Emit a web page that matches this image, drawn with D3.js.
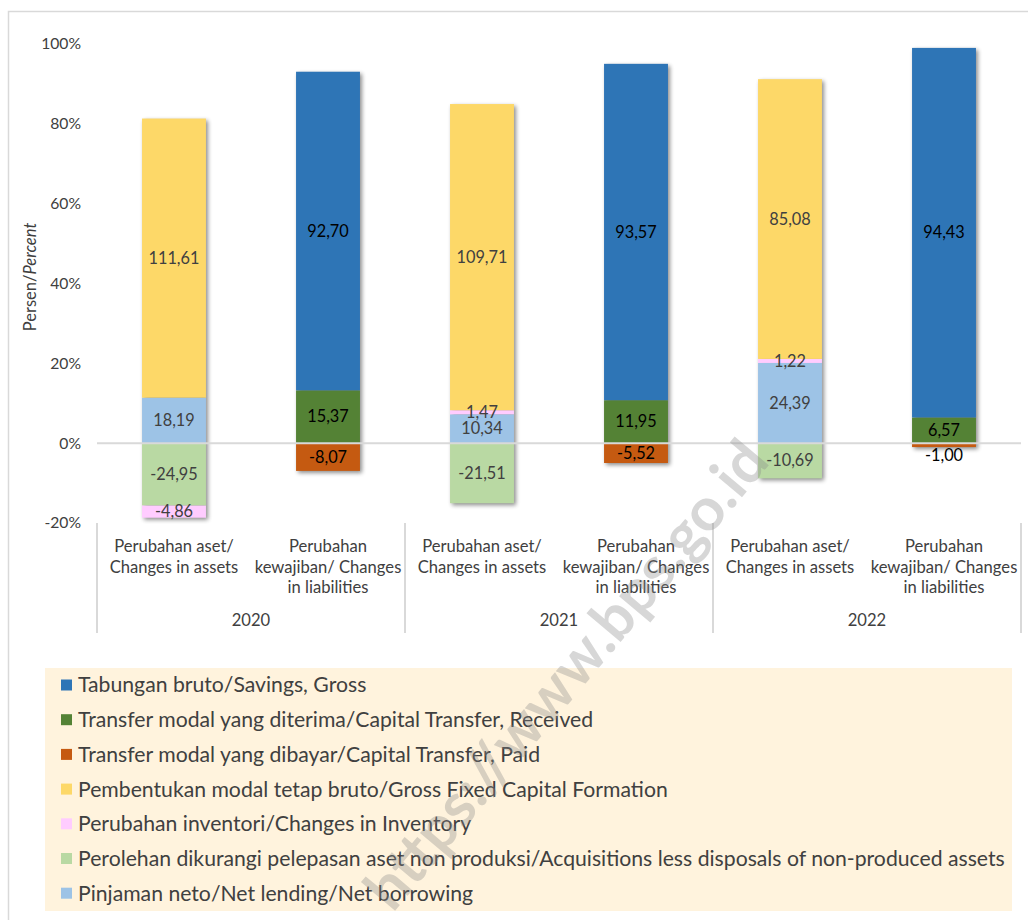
<!DOCTYPE html>
<html><head><meta charset="utf-8">
<script src="https://cdn.jsdelivr.net/npm/d3@7"></script>
<style>body{margin:0;background:#fff;font-family:Lato,"Open Sans",sans-serif}</style>
</head><body><svg id="c" width="1028" height="920"></svg>
<script>
const years = ["2020", "2021", "2022"];
const categoryLines = [
  ["Perubahan aset/", "Changes in assets"],
  ["Perubahan", "kewajiban/ Changes", "in liabilities"]
];
const categories = ["2020-A", "2020-L", "2021-A", "2021-L", "2022-A", "2022-L"];
const savings          = [0, 92.70, 0, 93.57, 0, 94.43];
const transferReceived = [0, 15.37, 0, 11.95, 0, 6.57];
const transferPaid     = [0, -8.07, 0, -5.52, 0, -1.00];
const gfcf             = [111.61, 0, 109.71, 0, 85.08, 0];
const inventory        = [-4.86, 0, 1.47, 0, 1.22, 0];
const acquisitions     = [-24.95, 0, -21.51, 0, -10.69, 0];
const netLending       = [18.19, 0, 10.34, 0, 24.39, 0];
const yTicks = [-20, 0, 20, 40, 60, 80, 100];

const seriesDefs = [
  {key:"netLending", values:netLending, name:"Pinjaman neto/Net lending/Net borrowing", color:"#9dc3e6", text:"#404040"},
  {key:"acquisitions", values:acquisitions, name:"Perolehan dikurangi pelepasan aset non produksi/Acquisitions less disposals of non-produced assets", color:"#b9d9a3", text:"#404040"},
  {key:"inventory", values:inventory, name:"Perubahan inventori/Changes in Inventory", color:"#ffccff", text:"#404040"},
  {key:"gfcf", values:gfcf, name:"Pembentukan modal tetap bruto/Gross Fixed Capital Formation", color:"#fdd868", text:"#404040"},
  {key:"transferPaid", values:transferPaid, name:"Transfer modal yang dibayar/Capital Transfer, Paid", color:"#c55a11", text:"#000"},
  {key:"transferReceived", values:transferReceived, name:"Transfer modal yang diterima/Capital Transfer, Received", color:"#548235", text:"#000"},
  {key:"savings", values:savings, name:"Tabungan bruto/Savings, Gross", color:"#2e75b6", text:"#000"}
];
const legendOrder = ["savings","transferReceived","transferPaid","gfcf","inventory","acquisitions","netLending"];

// 100% stacked: each value as share of the sum of absolute values in its category
const rows = categories.map((c, i) => {
  const tot = d3.sum(seriesDefs, s => Math.abs(s.values[i]));
  const r = {cat:c, i};
  seriesDefs.forEach(s => { r[s.key] = s.values[i] / tot * 100; r[s.key+"_raw"] = s.values[i]; });
  return r;
});
const stacked = d3.stack().keys(seriesDefs.map(s => s.key)).offset(d3.stackOffsetDiverging)(rows);

const svg = d3.select("#c");
const font = "Lato, 'Open Sans', sans-serif";

// outer border
svg.append("rect").attr("x", 8.5).attr("y", 11.5).attr("width", 1040).attr("height", 940)
  .attr("fill", "none").attr("stroke", "#d9d9d9").attr("stroke-width", 1.5);

const x = d3.scaleBand().domain(categories).range([97, 1021]).paddingInner(0.585).paddingOuter(0.2925);
const y = d3.scaleLinear().domain([-20, 100]).range([523, 44]);

const defs = svg.append("defs");
const f = defs.append("filter").attr("id","sh").attr("x","-20%").attr("y","-20%").attr("width","140%").attr("height","140%");
f.append("feGaussianBlur").attr("in","SourceAlpha").attr("stdDeviation",2.2);

// y tick labels
svg.append("g").selectAll("text").data(yTicks).join("text")
  .attr("x", 81).attr("y", d => y(d)).attr("dy", "0.35em").attr("text-anchor", "end")
  .attr("font-family", font).attr("font-size", 15.7).attr("fill", "#404040")
  .text(d => d + "%");

// y title
const yt = svg.append("text").attr("transform", "translate(36,277) rotate(-90)")
  .attr("text-anchor", "middle").attr("font-family", font).attr("font-size", 16.5).attr("fill", "#404040");
yt.append("tspan").text("Persen/");
yt.append("tspan").attr("font-style", "italic").text("Percent");

// bar shadows
const ext = rows.map((r, i) => {
  let lo = 0, hi = 0;
  stacked.forEach(s => { lo = Math.min(lo, s[i][0], s[i][1]); hi = Math.max(hi, s[i][0], s[i][1]); });
  return {cat: r.cat, lo, hi};
});
svg.append("g").selectAll("rect").data(ext).join("rect")
  .attr("x", d => x(d.cat) + 2).attr("y", d => y(d.hi) + 2)
  .attr("width", x.bandwidth()).attr("height", d => y(d.lo) - y(d.hi))
  .attr("fill", "#000").attr("opacity", 0.45).attr("filter", "url(#sh)");

// bars
const sg = svg.append("g").selectAll("g").data(stacked).join("g")
  .attr("fill", (d, i) => seriesDefs[i].color);
sg.selectAll("rect").data(d => d.filter(p => p[1] !== p[0])).join("rect")
  .attr("x", d => x(d.data.cat)).attr("y", d => y(Math.max(d[0], d[1])))
  .attr("width", x.bandwidth()).attr("height", d => Math.abs(y(d[0]) - y(d[1])));

// zero line
svg.append("line").attr("x1", 97).attr("x2", 1021).attr("y1", y(0)).attr("y2", y(0))
  .attr("stroke", "#d9d9d9").attr("stroke-width", 2);

// data labels
const fmt = v => v.toFixed(2).replace(".", ",");
stacked.forEach((s, si) => {
  const def = seriesDefs[si];
  svg.append("g").selectAll("text").data(s.filter(p => p[1] !== p[0])).join("text")
    .attr("x", d => x(d.data.cat) + x.bandwidth() / 2)
    .attr("y", d => {
      const c = (y(d[0]) + y(d[1])) / 2;
      const h = Math.abs(y(d[0]) - y(d[1]));
      return (d[0] < 0 || d[1] < 0) && h < 8 ? y(Math.min(d[0], d[1])) + 8 : c;
    })
    .attr("dy", "0.35em").attr("text-anchor", "middle")
    .attr("font-family", font).attr("font-size", 16.3).attr("fill", def.text)
    .text(d => fmt(d.data[def.key + "_raw"]));
});

// category axis
const catG = svg.append("g");
categories.forEach((c, i) => {
  const lines = categoryLines[i % 2];
  const t = catG.append("text").attr("text-anchor", "middle").attr("font-family", font)
    .attr("font-size", 16.6).attr("fill", "#404040");
  lines.forEach((l, j) => t.append("tspan").attr("x", x(c) + x.bandwidth() / 2).attr("y", 552 + j * 20.5).text(l));
});
const groupX = d3.scaleBand().domain(years).range([97, 1021]);
svg.append("g").selectAll("line").data([97, 405, 713, 1021]).join("line")
  .attr("x1", d => d).attr("x2", d => d).attr("y1", 523).attr("y2", 633)
  .attr("stroke", "#d9d9d9").attr("stroke-width", 2);
svg.append("g").selectAll("text").data(years).join("text")
  .attr("x", d => groupX(d) + groupX.bandwidth() / 2).attr("y", 626).attr("text-anchor", "middle")
  .attr("font-family", font).attr("font-size", 16.6).attr("fill", "#404040").text(d => d);

// legend
svg.append("rect").attr("x", 45).attr("y", 668).attr("width", 967).attr("height", 243).attr("fill", "#fff3dd");
const lg = svg.append("g").selectAll("g").data(legendOrder.map(k => seriesDefs.find(s => s.key === k))).join("g")
  .attr("transform", (d, i) => `translate(61,${685 + i * 34.7})`);
lg.append("rect").attr("x", 0).attr("y", -5.5).attr("width", 11).attr("height", 11).attr("fill", d => d.color);
lg.append("text").attr("x", 17).attr("dy", "0.35em").attr("font-family", font).attr("font-size", 21.2)
  .attr("fill", "#404040").text(d => d.name);

// watermark
svg.append("text").attr("transform", "translate(582,688) rotate(-50)").attr("text-anchor", "middle")
  .attr("font-family", font).attr("font-weight", "bold").attr("font-size", 60)
  .attr("fill", "#888").attr("opacity", 0.33).text("https://www.bps.go.id");
</script></body></html>
